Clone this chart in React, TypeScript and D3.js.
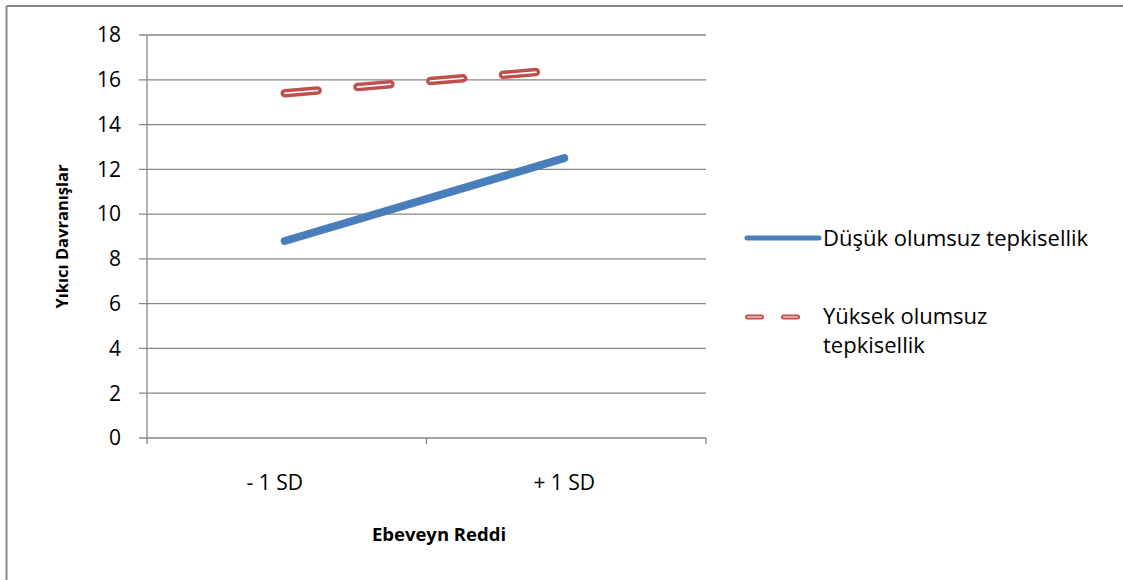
import * as d3 from 'd3'

// chart data
const categories = ['- 1 SD', '+ 1 SD']
const lowSeries = [8.8, 12.5]
const highSeries = [15.4, 16.45]
const yTicks = [0, 2, 4, 6, 8, 10, 12, 14, 16, 18]
const lowName = 'Düşük olumsuz tepkisellik'
const highName = ['Yüksek olumsuz', 'tepkisellik']

const font = "'Open Sans', sans-serif"

export default function App() {
  const width = 1123
  const height = 580
  const left = 147
  const right = 706
  const top = 35
  const bottom = 438

  const x = d3.scaleBand().domain(categories).range([left, right])
  const y = d3.scaleLinear().domain([0, 18]).range([bottom, top])
  const cx = (c: string) => (x(c) ?? 0) + x.bandwidth() / 2

  const line = d3
    .line<number>()
    .x((_, i) => cx(categories[i]) - 2)
    .y((d) => y(d))

  const grid = '#868686'
  // label nudges so the text sits like Excel's
  const labelShift = [-12, -2]

  return (
    <svg
      width={width}
      height={height}
      style={{ position: 'absolute', left: 0, top: 0, background: '#fff' }}
      fontFamily={font}
    >
      {/* outer frame (only top and left edges are in view) */}
      <line x1={6.5} x2={width} y1={6} y2={6} stroke={grid} strokeWidth={2} />
      <line x1={6.5} x2={6.5} y1={6} y2={height} stroke={grid} strokeWidth={2} />

      {/* gridlines */}
      {yTicks.map((t) => (
        <line key={t} x1={left - 8} x2={right} y1={y(t)} y2={y(t)} stroke={grid} strokeWidth={1.3} />
      ))}
      {/* y axis */}
      <line x1={left} x2={left} y1={top} y2={bottom} stroke={grid} strokeWidth={1.3} />
      {/* x axis ticks */}
      {[left, left + x.bandwidth(), right].map((v, i) => (
        <line key={i} x1={v} x2={v} y1={bottom} y2={bottom + 6} stroke={grid} strokeWidth={1.3} />
      ))}

      {yTicks.map((t) => (
        <text key={t} x={121} y={y(t)} dy="0.35em" textAnchor="end" fontSize={21} fill="#000">
          {t}
        </text>
      ))}
      {categories.map((c, i) => (
        <text key={c} x={cx(c) + labelShift[i]} y={490} textAnchor="middle" fontSize={21} fill="#000">
          {c}
        </text>
      ))}

      <text
        transform={`translate(68,${(top + bottom) / 2}) rotate(-90)`}
        textAnchor="middle"
        fontSize={16.5}
        fontWeight="bold"
        fill="#000"
      >
        Yıkıcı Davranışlar
      </text>
      <text x={439} y={541} textAnchor="middle" fontSize={18.5} fontWeight="bold" fill="#000">
        Ebeveyn Reddi
      </text>

      {/* series */}
      <path d={line(lowSeries) ?? ''} fill="none" stroke="#4a7ebb" strokeWidth={8} strokeLinecap="round" />
      <path
        d={line(highSeries) ?? ''}
        fill="none"
        stroke="#c0504d"
        strokeWidth={8.5}
        strokeLinecap="round"
        strokeDasharray="33 40"
      />
      <path
        d={line(highSeries) ?? ''}
        fill="none"
        stroke="#fff"
        strokeWidth={1.6}
        strokeLinecap="round"
        strokeDasharray="33 40"
      />

      {/* legend */}
      <line x1={747} x2={819} y1={238} y2={238} stroke="#4a7ebb" strokeWidth={5} strokeLinecap="round" />
      <text x={823} y={238} dy="0.35em" fontSize={22} fill="#000">
        {lowName}
      </text>
      <line x1={747.5} x2={797.5} y1={317} y2={317} stroke="#c0504d" strokeWidth={5} strokeLinecap="round" strokeDasharray="14 22" />
      <line x1={747.5} x2={797.5} y1={317} y2={317} stroke="#fff" strokeWidth={1} strokeLinecap="round" strokeDasharray="14 22" />
      {highName.map((s, i) => (
        <text key={s} x={823} y={316 + i * 29} dy="0.35em" fontSize={22} fill="#000">
          {s}
        </text>
      ))}
    </svg>
  )
}
